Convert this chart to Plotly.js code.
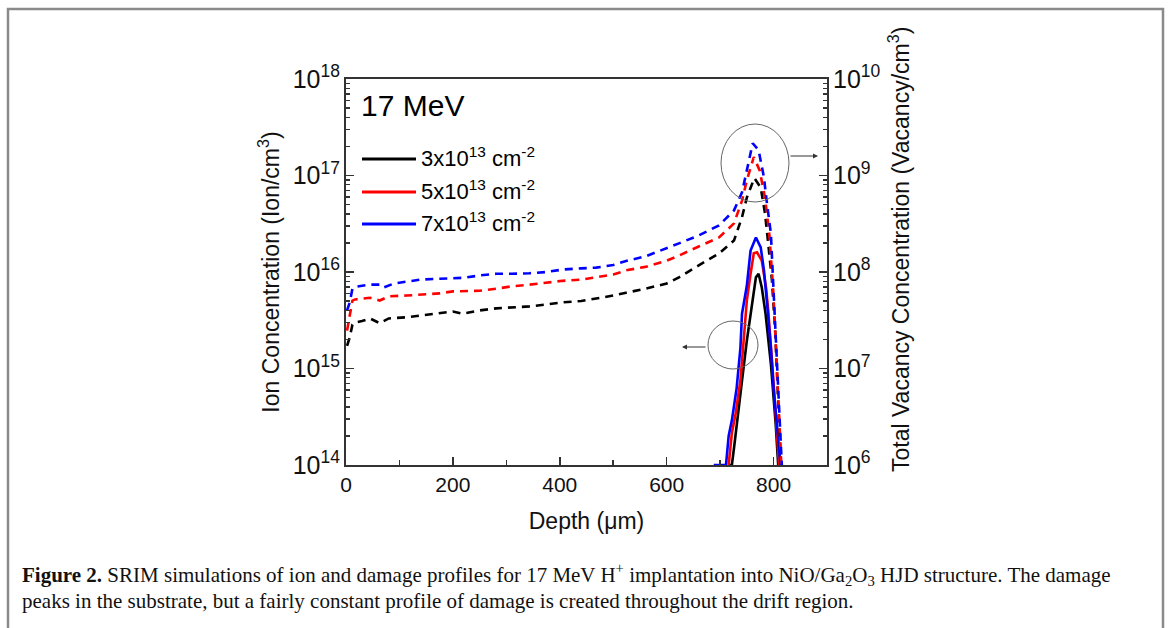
<!DOCTYPE html>
<html>
<head>
<meta charset="utf-8">
<script src="https://cdn.plot.ly/plotly-3.0.1.min.js"></script>
<style>html,body{margin:0;padding:0;background:#fff;}#chart{width:1169px;height:628px;}</style>
</head>
<body>
<div id="chart"></div>
<script>
// ---- data ----
const seriesNames = ["3x10<sup>13</sup> cm<sup>-2</sup>", "5x10<sup>13</sup> cm<sup>-2</sup>", "7x10<sup>13</sup> cm<sup>-2</sup>"];
const seriesColors = ["rgb(0,0,0)", "rgb(255,0,0)", "rgb(0,0,255)"];

// Ion concentration (Ion/cm^3), left axis
const ionDepth3 = [716,722,726,731,741,750,757,763,767,772,778,785,795,804,808,812];
const ionConc3  = [1.0e14,1.0e14,1.5e14,2.67e14,7.5e14,1.94e15,3.7e15,6.4e15,8.8e15,9.6e15,6.9e15,3.7e15,1.12e15,2.67e14,1.05e14,5e13];
const ionDepth5 = [716,722,729,738,744,750,757,763,769,778,786,790,798,806,810,814];
const ionConc5  = [1.0e14,2.15e14,3.4e14,7.5e14,1.94e15,5.06e15,9.6e15,1.56e16,1.6e16,1.31e16,6.9e15,4.0e15,1.02e15,2.4e14,1.05e14,5e13];
const ionDepth7 = [688,700,711,716,722,731,738,741,750,757,767,776,782,787,795,800,806,813,818];
const ionConc7  = [1.0e14,1.0e14,1.0e14,2.0e14,2.9e14,6.3e14,1.64e15,3.7e15,7.2e15,1.67e16,2.28e16,1.8e16,1.04e16,5.3e15,1.64e15,6.3e14,2.67e14,1.05e14,5e13];

// Total vacancy concentration (Vacancy/cm^3), right axis
const vacDepth3 = [2,7,12,17,30,45,63,80,114,140,175,200,218,250,281,310,343,375,405,440,468,500,524,560,600,623,660,698,726,741,750,764,776,784,790,797,803,808,812,816];
const vacConc3  = [1.72e7,2.1e7,2.85e7,3.0e7,3.1e7,3.3e7,2.95e7,3.3e7,3.4e7,3.55e7,3.73e7,3.9e7,3.7e7,4.0e7,4.2e7,4.3e7,4.4e7,4.6e7,4.85e7,5.0e7,5.3e7,5.7e7,6.1e7,6.7e7,7.6e7,8.8e7,1.17e8,1.56e8,2.12e8,3.7e8,5.9e8,9.4e8,7.5e8,4.05e8,1.98e8,8.2e7,2.5e7,4.6e6,1.05e6,5e5];
const vacDepth5 = [2,7,12,17,30,45,63,80,114,140,175,200,218,250,281,310,343,375,405,440,468,500,524,560,600,623,660,698,726,741,750,763,774,784,792,799,804,809,813,817];
const vacConc5  = [2.47e7,3.53e7,5.06e7,5.2e7,5.3e7,5.4e7,5.06e7,5.6e7,5.7e7,5.85e7,6.0e7,6.3e7,6.3e7,6.4e7,6.7e7,7.1e7,7.4e7,7.8e7,8.1e7,8.35e7,8.8e7,9.4e7,1.04e8,1.13e8,1.31e8,1.48e8,1.84e8,2.28e8,3.19e8,5.5e8,8.9e8,1.55e9,1.13e9,5.9e8,2.5e8,6.9e7,1.94e7,3.6e6,1.05e6,5e5];
const vacDepth7 = [2,7,12,17,30,45,63,70,90,114,140,175,200,218,250,281,310,343,375,405,440,468,500,524,560,600,623,660,698,726,741,750,761,772,782,787,795,800,806,812,815,818];
const vacConc7  = [4.0e7,4.85e7,6.7e7,7.0e7,7.2e7,7.4e7,7.4e7,6.9e7,7.6e7,8.0e7,8.35e7,8.5e7,8.7e7,8.7e7,9.2e7,9.6e7,9.6e7,9.7e7,1.0e8,1.06e8,1.09e8,1.11e8,1.18e8,1.3e8,1.45e8,1.75e8,1.98e8,2.39e8,3.04e8,4.35e8,6.7e8,1.13e9,2.16e9,1.83e9,9.6e8,5.5e8,2.5e8,6.4e7,1.2e7,2.26e6,1e6,5e5];

const xTickVals = [0,200,400,600,800];

// ---- layout geometry ----
const W = 1169, H = 628;
const PL = 346, PR = 827, PT = 79, PB = 465;
const px = v => (v - PL) / (PR - PL);
const py = v => (PB - v) / (PB - PT);

const ionSets = [[ionDepth3, ionConc3],[ionDepth5, ionConc5],[ionDepth7, ionConc7]];
const vacSets = [[vacDepth3, vacConc3],[vacDepth5, vacConc5],[vacDepth7, vacConc7]];

const traces = [];
vacSets.forEach((s, i) => traces.push({
  x: s[0], y: s[1], type: 'scatter', mode: 'lines', yaxis: 'y2', showlegend: false,
  line: {color: seriesColors[i], width: 2.6, dash: '8px,6px'}, hoverinfo: 'x+y'
}));
ionSets.forEach((s, i) => traces.push({
  x: s[0], y: s[1], type: 'scatter', mode: 'lines', yaxis: 'y', name: seriesNames[i], showlegend: false,
  line: {color: seriesColors[i], width: 2.6}, hoverinfo: 'x+y'
}));

const FONT = 'Liberation Sans, Arial, sans-serif';
const SERIF = 'Liberation Serif, Times New Roman, serif';
const axisCommon = {
  showline: true, linecolor: '#333', linewidth: 2, ticks: 'inside', tickcolor: '#333',
  ticklen: 8, tickwidth: 1.5, showgrid: false, zeroline: false,
  tickfont: {family: FONT, size: 20, color: '#111'}
};

const shapes = [
  // outer figure frame
  {type: 'rect', xref: 'paper', yref: 'paper', x0: px(8), x1: px(1163), y0: py(660), y1: py(9),
   line: {color: '#8a8a8a', width: 2.5}},
  // circles marking the curve groups
  {type: 'circle', xref: 'paper', yref: 'paper', x0: px(721), x1: px(789), y0: py(202), y1: py(124),
   line: {color: '#666', width: 1}},
  {type: 'circle', xref: 'paper', yref: 'paper', x0: px(708), x1: px(758), y0: py(369), y1: py(321),
   line: {color: '#666', width: 1}}
];
const legendY = [159, 192, 224];
const annotations = [
  {xref: 'paper', yref: 'paper', x: px(359), y: py(105), xanchor: 'left', yanchor: 'middle',
   text: '17 MeV', showarrow: false, font: {family: FONT, size: 30, color: '#000'}},
  {xref: 'paper', yref: 'paper', x: px(818), y: py(156), ax: -29, ay: 0, text: '', showarrow: true,
   arrowhead: 2, arrowsize: 1, arrowwidth: 1, arrowcolor: '#333'},
  {xref: 'paper', yref: 'paper', x: px(682), y: py(347), ax: 25, ay: 0, text: '', showarrow: true,
   arrowhead: 2, arrowsize: 1, arrowwidth: 1, arrowcolor: '#333'},
  // right axis title (placed to match the reference's vertical offset)
  {xref: 'paper', yref: 'paper', x: px(899), y: py(250), xanchor: 'center', yanchor: 'middle', textangle: -90,
   text: 'Total Vacancy Concentration (Vacancy/cm<sup>3</sup>)', showarrow: false,
   font: {family: FONT, size: 23, color: '#111'}},
  {xref: 'paper', yref: 'paper', x: px(20), y: py(574), xanchor: 'left', yanchor: 'middle', showarrow: false,
   text: '<b>Figure 2.</b> SRIM simulations of ion and damage profiles for 17 MeV H<sup>+</sup> implantation into NiO/Ga<sub>2</sub>O<sub>3</sub> HJD structure. The damage',
   font: {family: SERIF, size: 21, color: '#111'}},
  {xref: 'paper', yref: 'paper', x: px(20), y: py(601), xanchor: 'left', yanchor: 'middle', showarrow: false,
   text: 'peaks in the substrate, but a fairly constant profile of damage is created throughout the drift region.',
   font: {family: SERIF, size: 21, color: '#111'}}
];
seriesNames.forEach((n, i) => {
  shapes.push({type: 'line', xref: 'paper', yref: 'paper', x0: px(362), x1: px(416), y0: py(legendY[i]), y1: py(legendY[i]),
    line: {color: seriesColors[i], width: 3}});
  annotations.push({xref: 'paper', yref: 'paper', x: px(419), y: py(legendY[i] - 2), xanchor: 'left', yanchor: 'middle',
    text: n, showarrow: false, font: {family: FONT, size: 22, color: '#000'}});
});

const layout = {
  width: W, height: H,
  margin: {l: PL, r: W - PR, t: PT, b: H - PB, pad: 0},
  paper_bgcolor: '#fff', plot_bgcolor: '#fff',
  showlegend: false,
  xaxis: Object.assign({}, axisCommon, {
    range: [0, 900], tickvals: xTickVals, ticktext: xTickVals.map(String), mirror: true,
    tickfont: {family: FONT, size: 21, color: '#111'},
    minor: {tickvals: [100,300,500,700], ticks: 'inside', ticklen: 5, tickcolor: '#333', tickwidth: 1.5},
    title: {text: 'Depth (\u03bcm)', font: {family: FONT, size: 23, color: '#111'}, standoff: 18}
  }),
  yaxis: Object.assign({}, axisCommon, {
    type: 'log', range: [14, 18], dtick: 1, exponentformat: 'power', mirror: false,
    minor: {ticks: 'inside', ticklen: 4, dtick: 'D1', tickcolor: '#333', tickwidth: 1.2},
    title: {text: 'Ion Concentration (Ion/cm<sup>3</sup>)', font: {family: FONT, size: 23, color: '#111'}, standoff: 7}
  }),
  yaxis2: Object.assign({}, axisCommon, {
    type: 'log', range: [6, 10], dtick: 1, exponentformat: 'power', overlaying: 'y', side: 'right',
    minor: {ticks: 'inside', ticklen: 4, dtick: 'D1', tickcolor: '#333', tickwidth: 1.2}
  }),
  shapes: shapes,
  annotations: annotations
};

Plotly.newPlot('chart', traces, layout, {displayModeBar: false, staticPlot: true});
</script>
</body>
</html>
